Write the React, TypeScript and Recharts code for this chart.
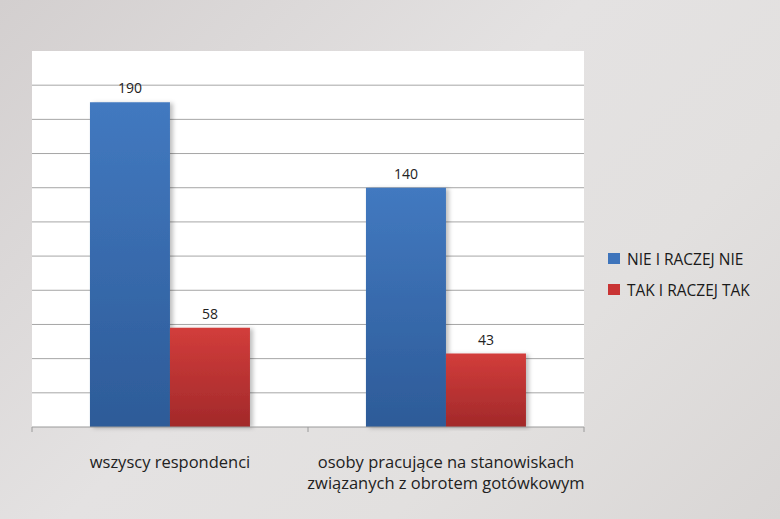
import React from 'react';
import {
  BarChart,
  Bar,
  XAxis,
  YAxis,
  CartesianGrid,
  Legend,
  LabelList,
  Rectangle
} from 'recharts';

// survey answers per group
const categories = ['wszyscy respondenci', 'osoby pracujące na stanowiskach\nzwiązanych z obrotem gotówkowym'];
const nieValues = [190, 140];
const takValues = [58, 43];
const seriesNames = ['NIE I RACZEJ NIE', 'TAK I RACZEJ TAK'];
const yTicks = [0, 20, 40, 60, 80, 100, 120, 140, 160, 180, 200, 220];
const gridValues = [20, 40, 60, 80, 100, 120, 140, 160, 180, 200];

const data = categories.map((name, i) => ({
  name,
  nie: nieValues[i],
  tak: takValues[i]
}));

const FONT = '"Open Sans", Lato, sans-serif';
const AXIS_COLOR = '#9a9a9a';

// category label plus small tick marks on the band edges
const CategoryTick = (props: any) => {
  const { x, y, payload, index, visibleTicksCount } = props;
  const half = payload.offset || 0;
  const lines = String(payload.value).split('\n');
  const isLast = index === visibleTicksCount - 1;
  return (
    <g>
      <line x1={x - half} x2={x - half} y1={y} y2={y + 5} stroke={AXIS_COLOR} />
      {isLast && <line x1={x + half} x2={x + half} y1={y} y2={y + 5} stroke={AXIS_COLOR} />}
      <text x={x} y={y} textAnchor="middle" fontFamily={FONT} fontSize={16.5} fill="#222">
        {lines.map((line, i) => (
          <tspan key={i} x={x} dy={i === 0 ? 41 : 21}>{line}</tspan>
        ))}
      </text>
    </g>
  );
};

const ShadowBar = (props: any) => <Rectangle {...props} filter="url(#barShadow)" />;

const LegendBox = () => (
  <div style={{ fontFamily: FONT, fontSize: 15.5, color: '#1a1a1a' }}>
    {seriesNames.map((n, i) => (
      <div key={n} style={{ display: 'flex', alignItems: 'center', height: 31 }}>
        <span
          style={{
            display: 'inline-block',
            width: 12,
            height: 11,
            marginRight: 7,
            background: i === 0 ? '#3e74bb' : '#c93434'
          }}
        />
        {n}
      </div>
    ))}
  </div>
);

export default function App() {
  return (
    <div
      style={{
        position: 'absolute',
        top: 0,
        left: 0,
        width: 780,
        height: 519,
        background: 'linear-gradient(135deg, #d3cfcf 0%, #e4e2e2 45%, #e2e0df 70%, #d9d6d5 100%)'
      }}
    >
      <BarChart
        width={780}
        height={519}
        data={data}
        margin={{ top: 51, right: 196, bottom: 32, left: 32 }}
        barCategoryGap="21%"
        barGap={0}
      >
        <defs>
          <linearGradient id="gradNie" x1="0" y1="0" x2="0" y2="1">
            <stop offset="0%" stopColor="#4279c0" />
            <stop offset="100%" stopColor="#2d5b98" />
          </linearGradient>
          <linearGradient id="gradTak" x1="0" y1="0" x2="0" y2="1">
            <stop offset="0%" stopColor="#d23d3b" />
            <stop offset="100%" stopColor="#a2292a" />
          </linearGradient>
          <filter id="barShadow" x="-10%" y="-5%" width="130%" height="110%">
            <feDropShadow dx="3" dy="1" stdDeviation="2" floodColor="#000" floodOpacity="0.25" />
          </filter>
        </defs>
        <CartesianGrid
          vertical={false}
          horizontalValues={gridValues}
          stroke="#a6a6a6"
          fill="#ffffff"
          fillOpacity={1}
        />
        <XAxis
          dataKey="name"
          interval={0}
          tick={<CategoryTick />}
          tickLine={false}
          tickSize={0}
          tickMargin={0}
          stroke={AXIS_COLOR}
          height={60}
        />
        <YAxis hide domain={[0, 220]} ticks={yTicks} />
        <Legend
          layout="vertical"
          verticalAlign="middle"
          align="center"
          content={<LegendBox />}
          wrapperStyle={{ top: 243, left: 608, width: 170 }}
        />
        <Bar dataKey="nie" name={seriesNames[0]} fill="url(#gradNie)" shape={<ShadowBar />} isAnimationActive={false}>
          <LabelList dataKey="nie" position="top" offset={9} fontFamily={FONT} fontSize={14} fill="#222" />
        </Bar>
        <Bar dataKey="tak" name={seriesNames[1]} fill="url(#gradTak)" shape={<ShadowBar />} isAnimationActive={false}>
          <LabelList dataKey="tak" position="top" offset={9} fontFamily={FONT} fontSize={14} fill="#222" />
        </Bar>
      </BarChart>
    </div>
  );
}
